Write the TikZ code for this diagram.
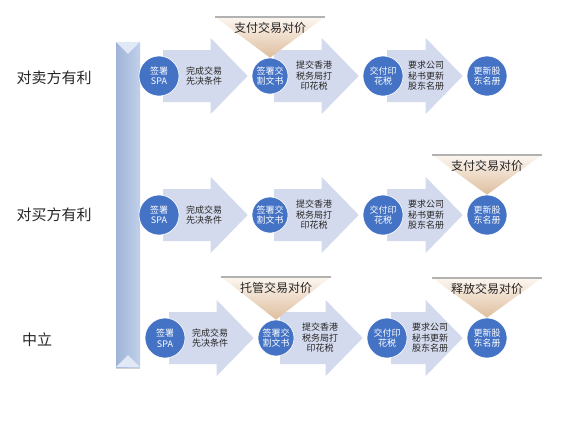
\documentclass[tikz,border=0pt]{standalone}
\usepackage{fontspec}
\setmainfont{Noto Sans CJK SC}
\usepackage{tikz}
\usetikzlibrary{calc, backgrounds}
\definecolor{circBlue}{RGB}{68,114,196}
\definecolor{flowLilac}{RGB}{212,218,237}
\definecolor{inkDark}{RGB}{38,38,38}
\definecolor{barDeep}{RGB}{160,180,216}
\definecolor{barPale}{RGB}{192,208,235}
\definecolor{barCap}{RGB}{226,233,246}
\definecolor{wedgeTop}{RGB}{253,247,241}
\definecolor{wedgeTip}{RGB}{222,190,158}

\begin{document}
\begin{tikzpicture}[x=1pt, y=-1pt,
    stage/.style={circle, fill=circBlue, draw=white, line width=0.6pt, text=white,
      minimum size=40pt, inner sep=0pt, align=center,
      font=\fontsize{9}{10.5}\selectfont},
    steptext/.style={text=inkDark, align=center, font=\fontsize{9}{10.5}\selectfont},
    sidelabel/.style={text=inkDark, font=\fontsize{15}{18}\selectfont},
    paylabel/.style={text=inkDark, font=\fontsize{12}{14}\selectfont}]
  \useasboundingbox (0,0) rectangle (576,421);

  % side bar
  \node[rectangle, left color=barDeep, right color=barPale, minimum width=24pt,
        minimum height=325pt, inner sep=0pt] (bar) at (128,204.5) {};
  \fill[barCap] (bar.north west) -- ($(bar.north)+(0,12)$) -- (bar.north east) -- cycle;
  \fill[barCap] (bar.south west) -- ($(bar.south)+(0,-12)$) -- (bar.south east) -- cycle;
  \draw[gray!35, line width=1pt] ($(bar.south west)+(0,1)$) -- ($(bar.south east)+(0,1)$);

  \node[sidelabel] (side1) at (54,78) {对卖方有利};
  \node[sidelabel] (side2) at (54,215) {对买方有利};
  \node[sidelabel] (side3) at (37,340) {中立};

  % circles and step texts
  \foreach \r/\y/\a/\b/\c in {1/76/159/270/383, 2/215/159/270/383, 3/338/165/276/387} {
    \node[stage] (c\r1) at (\a,\y) {签署\\SPA};
    \node[stage, minimum size=36pt] (c\r2) at (\b,\y) {签署交\\割文书};
    \node[stage] (c\r3) at (\c,\y) {交付印\\花税};
    \node[stage] (c\r4) at (487,\y) {更新股\\东名册};
    \node[steptext] (t\r1) at ($(c\r1)+(45,0)$) {完成交易\\先决条件};
    \node[steptext] (t\r2) at ($(c\r2)+(44,0)$) {提交香港\\税务局打\\印花税};
    \node[steptext] (t\r3) at ($(c\r3)+(43,0)$) {要求公司\\秘书更新\\股东名册};
  }

  % block arrows
  \begin{scope}[on background layer]
    \foreach \r in {1,2,3} {
      \foreach \i/\j in {1/2,2/3,3/4} {
        \fill[flowLilac] let \p1=(c\r\i.center), \p2=(c\r\j.west) in
          (\x1+4pt,\y1+26pt) -- (\x2-41pt,\y1+26pt) -- (\x2-41pt,\y1+38pt)
          -- (\x2-4pt,\y1) -- (\x2-41pt,\y1-38pt) -- (\x2-41pt,\y1-26pt)
          -- (\x1+4pt,\y1-26pt) -- cycle;
      }
    }
  \end{scope}

  % payment wedges
  \foreach \c/\txt/\h in {c12/支付交易对价/41, c24/支付交易对价/40, c32/托管交易对价/43, c34/释放交易对价/40} {
    \shade[top color=wedgeTop, bottom color=wedgeTip]
      ($(\c.north)+(-55,-\h)$) -- ($(\c.north)+(55,-\h)$) -- (\c.north) -- cycle;
    \draw[gray!60, line width=2.2pt] ($(\c.north)+(-55,-\h)$) -- ($(\c.north)+(55,-\h)$);
    \node[paylabel] (pay\c) at ($(\c.north)+(0,-\h+11)$) {\txt};
  }
\end{tikzpicture}
\end{document}
